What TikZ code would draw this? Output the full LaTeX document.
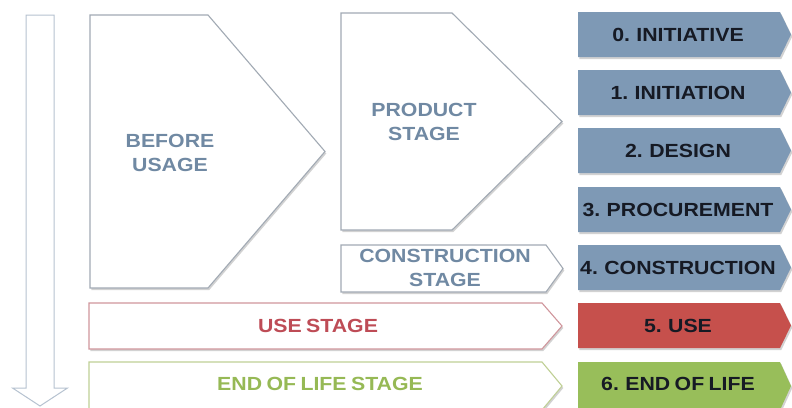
\documentclass[tikz,border=0pt]{standalone}
\usepackage{fontspec}
\setmainfont{Liberation Sans}
\newfontfamily\lblfont[FakeStretch=1.12,WordSpace=0.75]{Liberation Sans}
\usetikzlibrary{shadows}
\definecolor{boxblue}{RGB}{126,153,181}
\definecolor{boxred}{RGB}{198,80,76}
\definecolor{boxgreen}{RGB}{152,190,90}
\definecolor{txtblue}{RGB}{112,137,163}
\definecolor{txtred}{RGB}{190,76,86}
\definecolor{txtgreen}{RGB}{150,185,85}
\definecolor{txtdark}{RGB}{22,26,36}
\definecolor{edgegray}{RGB}{162,170,180}
\definecolor{edgered}{RGB}{208,150,156}
\definecolor{edgegreen}{RGB}{192,208,150}
\definecolor{arrowedge}{RGB}{182,194,208}
\tikzset{
  shade/.style={drop shadow={opacity=0.35, shadow xshift=1.3pt, shadow yshift=-2pt}},
  whiteshape/.style={fill=white, draw=edgegray, line width=1.1pt, shade},
  useshape/.style={fill=white, draw=edgered, line width=1.1pt, shade},
  eolshape/.style={fill=white, draw=edgegreen, line width=1.1pt, shade},
  bluebox/.style={fill=boxblue, draw=none, shade},
  redbox/.style={fill=boxred, draw=none, shade},
  greenbox/.style={fill=boxgreen, draw=none, shade},
  lbl/.style={font=\lblfont\bfseries\fontsize{19}{23.5}\selectfont, align=center, inner sep=0pt},
  phase/.style={font=\lblfont\bfseries\fontsize{19}{22}\selectfont, text=txtdark, inner sep=0pt}
}
% pentagon arrow: x1, y1, x2 (body right), y2, tip x
\newcommand{\pentpath}[5]{(#1,#2) -- (#3,#2) -- (#5,{(#2+#4)/2}) -- (#3,#4) -- (#1,#4) -- cycle}
\begin{document}
\begin{tikzpicture}[x=1pt,y=-1pt]
\useasboundingbox (0,0) rectangle (792,407);
\fill[white] (0,0) rectangle (792,407);

% downward arrow
\draw[fill=white, draw=arrowedge, line width=1pt]
  (26,15) -- (54,15) -- (54,388) -- (67.5,388) -- (40,406) -- (12.5,388) -- (26,388) -- cycle;

% before usage
\path[whiteshape] \pentpath{90}{15}{208}{288}{325};
\node[lbl, text=txtblue] (before) at (170,153) {BEFORE\\USAGE};

% product stage
\path[whiteshape] \pentpath{341}{13}{452}{230}{562};
\node[lbl, text=txtblue] (product) at (424,122) {PRODUCT\\STAGE};

% construction stage
\path[whiteshape] \pentpath{341}{245}{546}{292}{563};
\node[lbl, text=txtblue] (construction) at (445,268) {CONSTRUCTION\\STAGE};

% use stage
\path[useshape] \pentpath{89}{303}{542}{349}{562};
\node[lbl, text=txtred] (use) at (318,326) {USE STAGE};

% end of life stage
\path[eolshape] \pentpath{89}{362}{542}{410}{562};
\node[lbl, text=txtgreen] (eol) at (320,384) {END OF LIFE STAGE};

% right phase boxes
\path[bluebox] \pentpath{578}{12}{780}{57}{791};
\node[phase] (p0) at (678,35) {0. INITIATIVE};
\path[bluebox] \pentpath{578}{70}{780}{115}{791};
\node[phase] (p1) at (678,93) {1. INITIATION};
\path[bluebox] \pentpath{578}{128}{780}{173}{791};
\node[phase] (p2) at (678,151) {2. DESIGN};
\path[bluebox] \pentpath{578}{187}{780}{232}{791};
\node[phase] (p3) at (678,210) {3. PROCUREMENT};
\path[bluebox] \pentpath{578}{245}{780}{290}{791};
\node[phase] (p4) at (678,268) {4. CONSTRUCTION};
\path[redbox] \pentpath{578}{303}{780}{348}{791};
\node[phase] (p5) at (678,326) {5. USE};
\path[greenbox] \pentpath{578}{362}{780}{410}{791};
\node[phase] (p6) at (678,384) {6. END OF LIFE};
\end{tikzpicture}
\end{document}
